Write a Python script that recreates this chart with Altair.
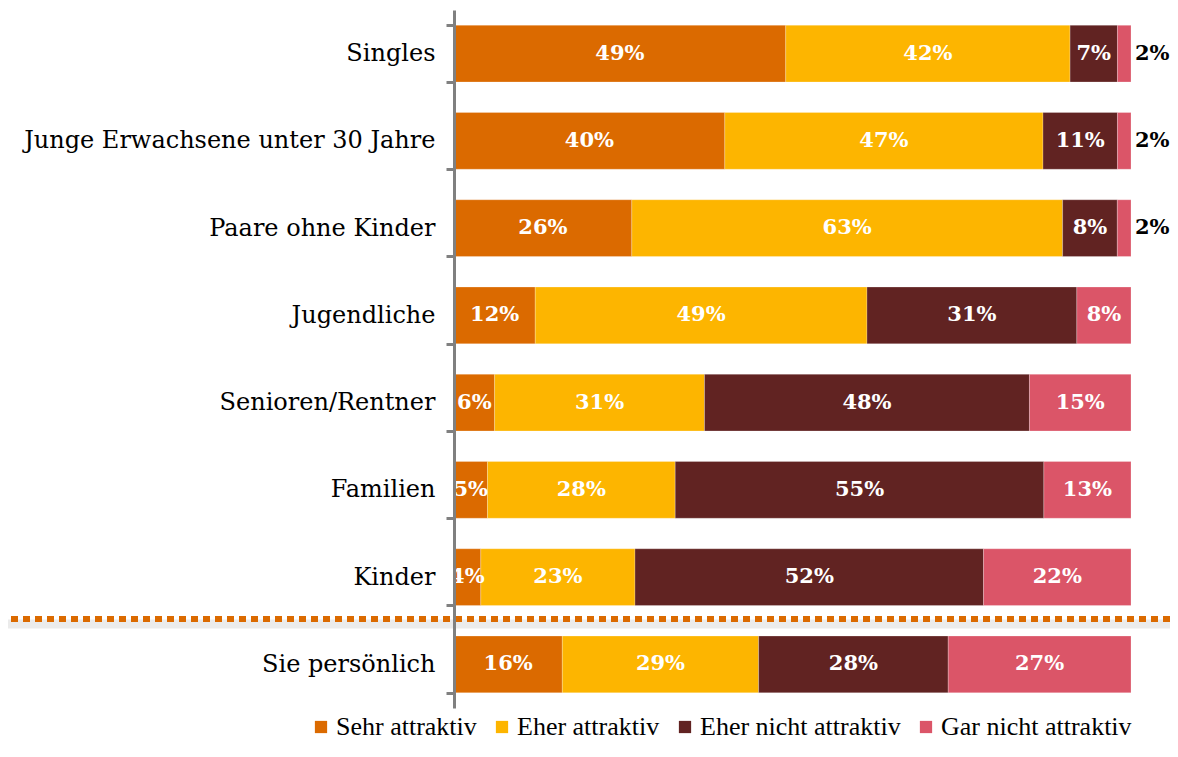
import altair as alt
import pandas as pd

categories = ["Singles", "Junge Erwachsene unter 30 Jahre", "Paare ohne Kinder",
              "Jugendliche", "Senioren/Rentner", "Familien", "Kinder", "Sie persönlich"]
series = ["Sehr attraktiv", "Eher attraktiv", "Eher nicht attraktiv", "Gar nicht attraktiv"]
sehr = [49, 40, 26, 12, 6, 5, 4, 16]
eher = [42, 47, 63, 49, 31, 28, 23, 29]
eher_nicht = [7, 11, 8, 31, 48, 55, 52, 28]
gar_nicht = [2, 2, 2, 8, 15, 13, 22, 27]
colors = ["#DB6A00", "#FDB500", "#612322", "#DB5568"]

rows = []
for si, (name, vals) in enumerate(zip(series, [sehr, eher, eher_nicht, gar_nicht])):
    for cat, v in zip(categories, vals):
        rows.append({"cat": cat, "series": name, "idx": si, "value": v, "label": f"{v}%"})
df = pd.DataFrame(rows)

base = alt.Chart(df).transform_stack(
    stack="value", as_=["x0", "x1"], groupby=["cat"], offset="normalize",
    sort=[alt.SortField("idx", order="ascending")]
).transform_calculate(mid="(datum.x0 + datum.x1) / 2")

yenc = alt.Y("cat:N", sort=categories, title=None,
             scale=alt.Scale(paddingInner=0.35, paddingOuter=0.175),
             axis=alt.Axis(domainColor="#808080", domainWidth=3, tickColor="#808080",
                           tickWidth=3, tickSize=8, tickBand="extent", labelPadding=11,
                           labelFont="DejaVu Serif", labelFontSize=24, labelColor="#000000",
                           labelLimit=600, grid=False, zindex=1))
xscale = alt.Scale(domain=[0, 1], nice=False)

bars = base.mark_bar(stroke="#ffffff", strokeWidth=0.6, strokeOpacity=0.4).encode(
    y=yenc,
    x=alt.X("x0:Q", scale=xscale, axis=None),
    x2="x1:Q",
    color=alt.Color("series:N", sort=series,
                    scale=alt.Scale(domain=series, range=colors),
                    legend=alt.Legend(title=None, orient="none", legendX=-146, legendY=704,
                                      direction="horizontal", columns=4,
                                      symbolType="square", symbolSize=150, symbolStrokeWidth=0,
                                      labelFont="Liberation Serif", labelFontSize=26,
                                      labelColor="#000000", labelOffset=2, columnPadding=12,
                                      labelLimit=400)),
)

inside = base.transform_filter("datum.value >= 3").mark_text(
    font="DejaVu Serif", fontWeight="bold", fontSize=21, color="#ffffff"
).encode(
    y=alt.Y("cat:N", sort=categories),
    x=alt.X("mid:Q", scale=xscale),
    text="label:N",
)

outside = base.transform_filter("datum.value < 3").mark_text(
    font="DejaVu Serif", fontWeight="bold", fontSize=21, color="#000000",
    align="left", dx=4
).encode(
    y=alt.Y("cat:N", sort=categories),
    x=alt.X("x1:Q", scale=xscale),
    text="label:N",
)

shadow = alt.Chart(pd.DataFrame({"sep": ["Kinder"]})).mark_rule(
    color="#bdbdbd", strokeWidth=9, opacity=0.3
).encode(x=alt.value(-455), x2=alt.value(723), y=alt.value(614))

sep = alt.Chart(pd.DataFrame({"sep": ["Kinder"]})).mark_rule(
    color="#DB6A00", strokeWidth=6, strokeDash=[7, 5]
).encode(x=alt.value(-455), x2=alt.value(723), y=alt.value(609))

chart = alt.layer(shadow, sep, bars, inside, outside).properties(
    width=677, height=698,
    padding={"left": 446, "top": 2, "right": 39, "bottom": 36},
    autosize=alt.AutoSizeParams(type="none"),
).configure_view(stroke=None)

chart.save("out.html", embed_options={"renderer": "svg", "actions": False})
